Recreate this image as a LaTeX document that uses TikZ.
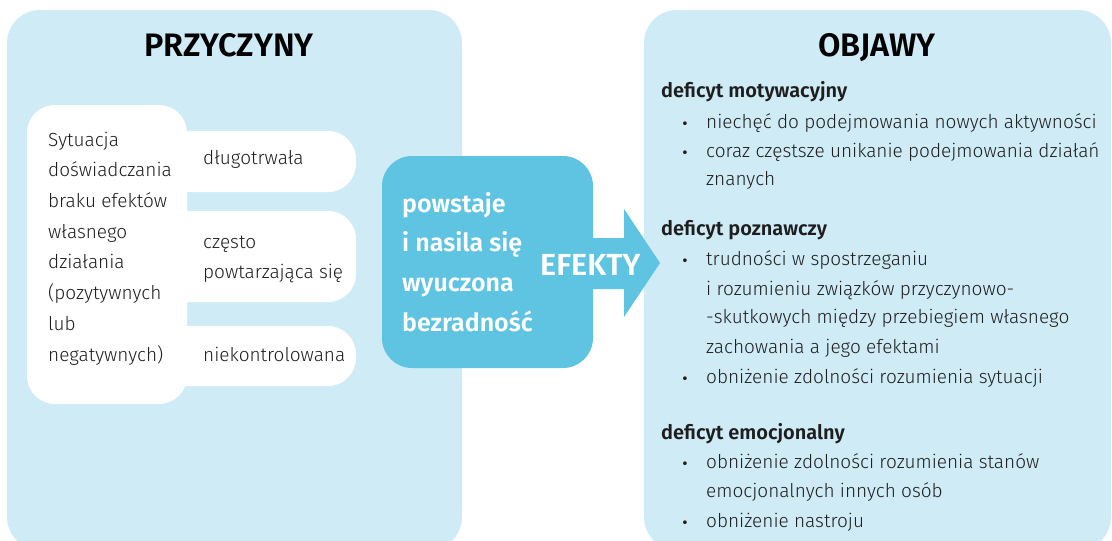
\documentclass[tikz,border=0pt]{standalone}
\usepackage{fontspec}
\setmainfont{Fira Sans}[UprightFont=* Light,BoldFont=* SemiBold]
\definecolor{panel}{RGB}{207,235,246}
\definecolor{dark}{RGB}{95,195,226}
\definecolor{ink}{RGB}{30,30,30}
\begin{document}
\begin{tikzpicture}[x=1pt,y=-1pt,
  txt/.style={anchor=base west,inner sep=0pt,text=ink,font=\fontsize{19}{22}\selectfont},
  head/.style={anchor=base west,inner sep=0pt,text=ink,font=\fontsize{20}{22}\selectfont\bfseries},
  title/.style={anchor=base,inner sep=0pt,text=black,font=\fontsize{32.5}{36}\selectfont\bfseries},
  wtxt/.style={anchor=base west,inner sep=0pt,text=white,font=\fontsize{25}{28}\selectfont\bfseries},
  bul/.style={anchor=base,inner sep=0pt,text=ink,font=\fontsize{14}{14}\selectfont\bfseries},
  panelbox/.style={fill=panel,rounded corners=33pt},
  whitebox/.style={fill=white,rounded corners=28pt},
  darkbox/.style={fill=dark,rounded corners=30pt}]
\useasboundingbox (0,0) rectangle (1112,541);
\clip (0,0) rectangle (1112,541);
\fill[white] (0,0) rectangle (1112,541);
% panels
\fill[panelbox] (7,10) rectangle (462,550);
\fill[panelbox] (644,10) rectangle (1111,550);
% white box and tabs
\fill[whitebox] (27,105) rectangle (187,404);
\fill[whitebox] (150,131) rectangle (356,192);
\fill[whitebox] (150,211) rectangle (356,302);
\fill[whitebox] (150,326) rectangle (356,386);
% dark box and arrow
\fill[darkbox] (382,156) rectangle (593,368);
\fill[dark] (585,238) -- (624,238) -- (624,209) -- (660,263) -- (624,317) -- (624,289) -- (585,289) -- cycle;
% titles
\node[title] (t1) at (229,56) {PRZYCZYNY};
\node[title] (t2) at (877,56) {OBJAWY};
% left box text
\node[txt] (s1) at (48,146) {Sytuacja};
\node[txt] (s2) at (48,176) {doświadczania};
\node[txt] (s3) at (48,207) {braku efektów};
\node[txt] (s4) at (48,238) {własnego};
\node[txt] (s5) at (48,268) {działania};
\node[txt] (s6) at (48,299) {(pozytywnych};
\node[txt] (s7) at (48,330) {lub};
\node[txt] (s8) at (48,361) {negatywnych)};
% tabs text
\node[txt] (a1) at (203,164) {długotrwała};
\node[txt] (a2) at (203,248) {często};
\node[txt] (a3) at (203,278) {powtarzająca się};
\node[txt] (a4) at (203,361) {niekontrolowana};
% dark text
\node[wtxt] (d1) at (402,212) {powstaje};
\node[wtxt] (d2) at (402,251) {i nasila się};
\node[wtxt] (d3) at (402,291) {wyuczona};
\node[wtxt] (d4) at (402,331) {bezradność};
\node[anchor=base west,inner sep=0pt,text=white,font=\fontsize{30.5}{32}\selectfont\bfseries] (ef) at (540,275) {EFEKTY};
% right text
\node[head] (h1) at (661,97) {deficyt motywacyjny};
\node[bul] (b1) at (685,128) {•};
\node[txt] (r1) at (706,128) {niechęć do podejmowania nowych aktywności};
\node[bul] (b2) at (685,157) {•};
\node[txt] (r2) at (706,157) {coraz częstsze unikanie podejmowania działań};
\node[txt] (r3) at (706,185) {znanych};
\node[head] (h2) at (661,235) {deficyt poznawczy};
\node[bul] (b3) at (685,265) {•};
\node[txt] (r4) at (706,265) {trudności w spostrzeganiu};
\node[txt] (r5) at (706,295) {i rozumieniu związków przyczynowo-};
\node[txt] (r6) at (706,323) {-skutkowych między przebiegiem własnego};
\node[txt] (r7) at (706,353) {zachowania a jego efektami};
\node[bul] (b4) at (685,383) {•};
\node[txt] (r8) at (706,383) {obniżenie zdolności rozumienia sytuacji};
\node[head] (h3) at (661,439) {deficyt emocjonalny};
\node[bul] (b5) at (685,468) {•};
\node[txt] (r9) at (706,468) {obniżenie zdolności rozumienia stanów};
\node[txt] (r10) at (706,497) {emocjonalnych innych osób};
\node[bul] (b6) at (685,527) {•};
\node[txt] (r11) at (706,527) {obniżenie nastroju};
\end{tikzpicture}
\end{document}
